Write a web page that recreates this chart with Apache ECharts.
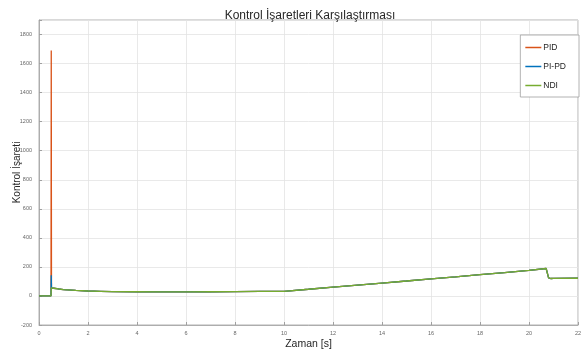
<!DOCTYPE html>
<html>
<head>
<meta charset="utf-8">
<script src="https://cdn.jsdelivr.net/npm/echarts@6/dist/echarts.min.js"></script>
<style>
html,body{margin:0;padding:0;background:#fff;}
#c{width:581px;height:352px;}
</style>
</head>
<body>
<div id="c"></div>
<script>
const time  = [0, 0.49, 0.5, 0.51, 0.6, 0.8, 1, 1.5, 2, 2.5, 3, 4, 5, 6, 7, 8, 9, 10, 11, 12, 13, 14, 15, 16, 17, 18, 19, 20, 20.7, 20.8, 20.9, 21, 22];
const pid   = [0, 0, 1690, 55, 53, 48, 44, 38, 34, 32, 30, 29, 28, 28, 29, 30, 31, 32, 46, 61, 75, 89, 103, 118, 132, 147, 161, 176, 189, 125, 120, 121, 122];
const pipd  = [0, 0, 143, 55, 53, 48, 44, 38, 34, 32, 30, 29, 28, 28, 29, 30, 31, 32, 46, 61, 75, 89, 103, 118, 132, 147, 161, 176, 189, 125, 120, 121, 122];
const ndi   = [0, 0, 55, 55, 53, 48, 44, 38, 34, 32, 30, 29, 28, 28, 29, 30, 31, 32, 46, 61, 75, 89, 103, 118, 132, 147, 161, 176, 189, 125, 120, 121, 122];
const seriesNames = ['PID', 'PI-PD', 'NDI'];
const colors = ['#D95319', '#0072BD', '#77AC30'];

const pair = arr => time.map((t, i) => [t, arr[i]]);
const font = 'Liberation Sans, Arial, sans-serif';
const chart = echarts.init(document.getElementById('c'));
chart.setOption({
  animation: false,
  title: {
    text: 'Kontrol İşaretleri Karşılaştırması',
    left: 305, top: 5, textAlign: 'center',
    textStyle: {fontFamily: font, fontSize: 12, fontWeight: 'normal', color: '#262626'}
  },
  legend: {
    orient: 'vertical', right: 2, top: 35,
    data: seriesNames,
    icon: 'rect',
    backgroundColor: '#fff', borderColor: '#a0a0a0', borderWidth: 0.8,
    padding: [8, 13, 7, 5],
    itemWidth: 16, itemHeight: 1.5, itemGap: 10,
    textStyle: {fontFamily: font, fontSize: 8.5, color: '#262626', padding: [0, 0, 0, -3], lineHeight: 8}
  },
  grid: {left: 39, right: 3, top: 20, bottom: 27, show: true, borderColor: '#a0a0a0', borderWidth: 0.8,
         containLabel: false, outerBoundsMode: 'none'},
  xAxis: {
    type: 'value', min: 0, max: 22, interval: 2,
    name: 'Zaman [s]', nameLocation: 'middle', nameGap: 14, nameMoveOverlap: false,
    nameTextStyle: {fontFamily: font, fontSize: 10.5, color: '#262626'},
    axisLine: {show: true, onZero: false, lineStyle: {color: '#a0a0a0', width: 0.8}},
    axisTick: {show: true, inside: true, length: 3, lineStyle: {color: '#a0a0a0'}},
    axisLabel: {fontFamily: font, fontSize: 5.5, color: '#666', margin: 5},
    splitLine: {show: true, lineStyle: {color: '#e3e3e3', width: 0.8}}
  },
  yAxis: {
    type: 'value', min: -200, max: 1900, interval: 200,
    name: 'Kontrol İşareti', nameLocation: 'middle', nameGap: 17, nameMoveOverlap: false,
    nameTextStyle: {fontFamily: font, fontSize: 10, color: '#262626'},
    axisLine: {show: true, onZero: false, lineStyle: {color: '#a0a0a0', width: 0.8}},
    axisTick: {show: true, inside: true, length: 3, lineStyle: {color: '#a0a0a0'}},
    axisLabel: {fontFamily: font, fontSize: 5.5, color: '#666', margin: 7,
      formatter: v => (v > 1800 ? '' : v)},
    splitLine: {show: true, lineStyle: {color: '#e3e3e3', width: 0.8}}
  },
  series: [
    {name: seriesNames[0], type: 'line', data: pair(pid), symbol: 'none', color: colors[0], lineStyle: {width: 1.3}},
    {name: seriesNames[1], type: 'line', data: pair(pipd), symbol: 'none', color: colors[1], lineStyle: {width: 1.3}},
    {name: seriesNames[2], type: 'line', data: pair(ndi), symbol: 'none', color: colors[2], lineStyle: {width: 1.3}}
  ]
});
</script>
</body>
</html>
